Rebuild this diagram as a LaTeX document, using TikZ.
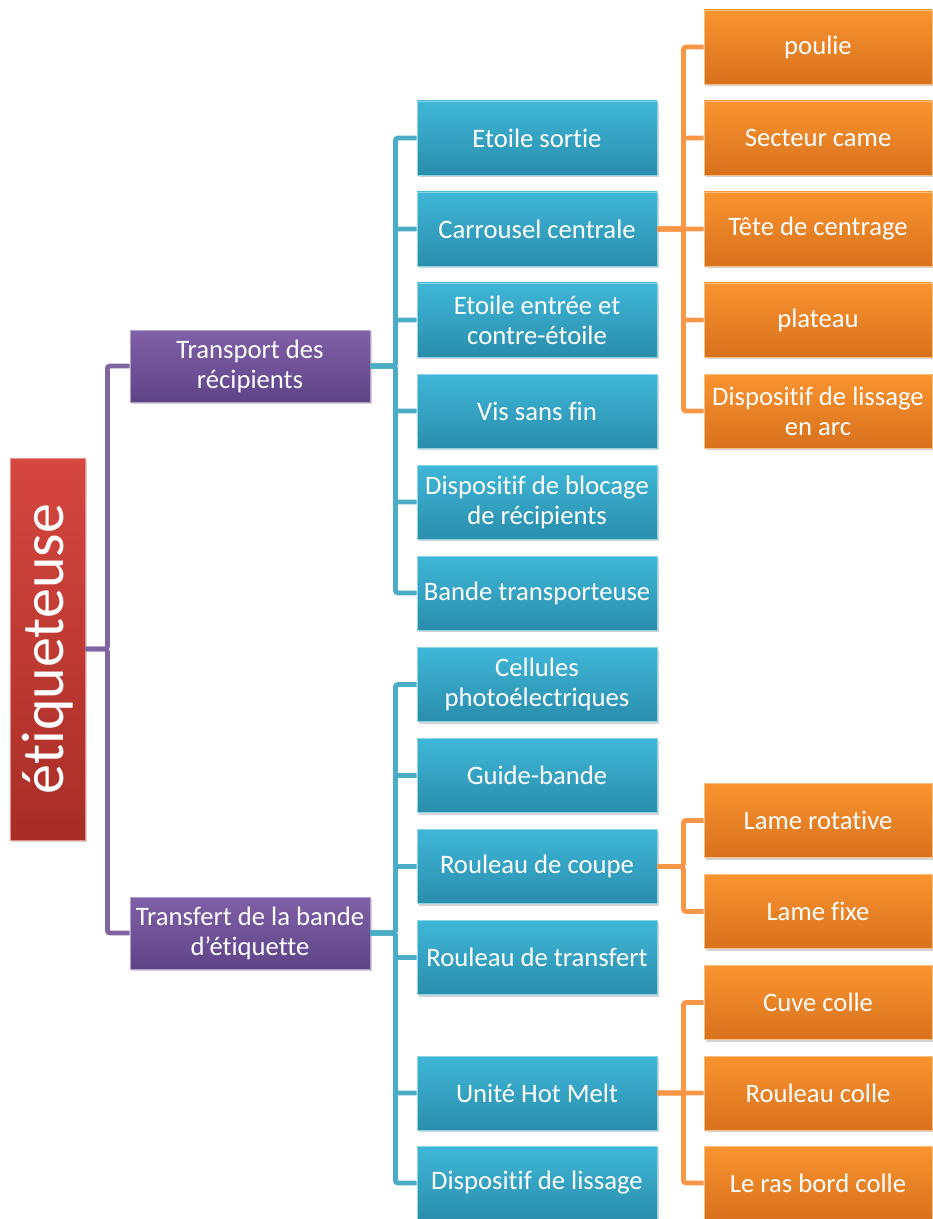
\documentclass[tikz,border=0pt]{standalone}
\usepackage{fontspec}
\setmainfont{Carlito}[Ligatures=NoCommon]
\usepackage{tikz}
\usetikzlibrary{calc,shadows}
\tikzset{>=latex}
\definecolor{redtop}{HTML}{D5473F}
\definecolor{redbot}{HTML}{A82D27}
\definecolor{purpletop}{HTML}{8060A8}
\definecolor{purplebot}{HTML}{5F4387}
\definecolor{bluetop}{HTML}{3FB7D8}
\definecolor{bluebot}{HTML}{2A8DAC}
\definecolor{orangetop}{HTML}{F9942F}
\definecolor{orangebot}{HTML}{D8711D}
\definecolor{linepurple}{HTML}{8064A2}
\definecolor{lineblue}{HTML}{4BACC6}
\definecolor{lineorange}{HTML}{F79646}
\tikzset{
  box/.style={rectangle, text=white, align=center, inner sep=1pt,
    font=\fontsize{20}{22.5}\selectfont,
    drop shadow={opacity=0.35, shadow xshift=1.2pt, shadow yshift=-1.5pt}},
  rootbox/.style={box, minimum width=56.25pt, minimum height=286.5pt,
    top color=redtop, bottom color=redbot, draw=redtop!60!white, line width=0.6pt,
    font=\fontsize{45}{48}\selectfont},
  purplebox/.style={box, minimum width=180pt, minimum height=54pt,
    top color=purpletop, bottom color=purplebot, draw=purpletop!60!white, line width=0.6pt},
  bluebox/.style={box, minimum width=180pt, minimum height=55.5pt,
    top color=bluetop, bottom color=bluebot, draw=bluetop!60!white, line width=0.6pt},
  orangebox/.style={box, minimum width=171pt, minimum height=55.5pt,
    top color=orangetop, bottom color=orangebot, draw=orangetop!60!white, line width=0.6pt},
  purpleline/.style={draw=linepurple, line width=3.6pt, rounded corners=2pt},
  blueline/.style={draw=lineblue, line width=3.6pt, rounded corners=2pt},
  orangeline/.style={draw=lineorange, line width=3.6pt, rounded corners=2pt}
}

\begin{document}
\begin{tikzpicture}[x=0.75pt, y=-0.75pt]
\useasboundingbox (0,0) rectangle (932,1219);

% root and first level
\node[rootbox] (root) at (47.5, 649) {\rotatebox{90}{étiqueteuse}};
\node[purplebox] (transport) at (250, 366) {Transport des\\récipients};
\node[purplebox] (transfert) at (250, 933) {Transfert de la bande\\d’étiquette};

% second level
\node[bluebox] (etoilesortie) at (537, 138) {Etoile sortie};
\node[bluebox] (carrousel) at (537, 229) {Carrousel centrale};
\node[bluebox] (etoileentree) at (537, 320) {Etoile entrée et\\contre-étoile};
\node[bluebox] (vis) at (537, 411) {Vis sans fin};
\node[bluebox] (blocage) at (537, 502) {Dispositif de blocage\\de récipients};
\node[bluebox] (bande) at (537, 593) {Bande transporteuse};
\node[bluebox] (cellules) at (537, 684.5) {Cellules\\photoélectriques};
\node[bluebox] (guide) at (537, 775.5) {Guide-bande};
\node[bluebox] (coupe) at (537, 866.5) {Rouleau de coupe};
\node[bluebox] (rtransfert) at (537, 957.5) {Rouleau de transfert};
\node[bluebox] (hotmelt) at (537, 1093) {Unité Hot Melt};
\node[bluebox] (lissage) at (537, 1183) {Dispositif de lissage};

% third level
\node[orangebox] (poulie) at (818, 47) {poulie};
\node[orangebox] (came) at (818, 138) {Secteur came};
\node[orangebox] (tete) at (818, 229) {Tête de centrage};
\node[orangebox] (plateau) at (818, 320) {plateau};
\node[orangebox] (arc) at (818, 411) {Dispositif de lissage\\en arc};
\node[orangebox] (rotative) at (818, 820.5) {Lame rotative};
\node[orangebox] (fixe) at (818, 911.5) {Lame fixe};
\node[orangebox] (cuve) at (818, 1002.5) {Cuve colle};
\node[orangebox] (rcolle) at (818, 1093) {Rouleau colle};
\node[orangebox] (rasbord) at (818, 1183) {Le ras bord colle};

% connectors
\draw[purpleline] (root.east) -- ++(22,0) |- (transport.west);
\draw[purpleline] (root.east) -- ++(22,0) |- (transfert.west);

\draw[blueline] (transport.east) -- ++(25,0) |- (etoilesortie.west);
\draw[blueline] (transport.east) -- ++(25,0) |- (carrousel.west);
\draw[blueline] (transport.east) -- ++(25,0) |- (etoileentree.west);
\draw[blueline] (transport.east) -- ++(25,0) |- (vis.west);
\draw[blueline] (transport.east) -- ++(25,0) |- (blocage.west);
\draw[blueline] (transport.east) -- ++(25,0) |- (bande.west);

\draw[blueline] (transfert.east) -- ++(25,0) |- (cellules.west);
\draw[blueline] (transfert.east) -- ++(25,0) |- (guide.west);
\draw[blueline] (transfert.east) -- ++(25,0) |- (coupe.west);
\draw[blueline] (transfert.east) -- ++(25,0) |- (rtransfert.west);
\draw[blueline] (transfert.east) -- ++(25,0) |- (hotmelt.west);
\draw[blueline] (transfert.east) -- ++(25,0) |- (lissage.west);

\draw[orangeline] (carrousel.east) -- ++(26,0) |- (poulie.west);
\draw[orangeline] (carrousel.east) -- ++(26,0) |- (came.west);
\draw[orangeline] (carrousel.east) -- ++(26,0) |- (tete.west);
\draw[orangeline] (carrousel.east) -- ++(26,0) |- (plateau.west);
\draw[orangeline] (carrousel.east) -- ++(26,0) |- (arc.west);

\draw[orangeline] (coupe.east) -- ++(26,0) |- (rotative.west);
\draw[orangeline] (coupe.east) -- ++(26,0) |- (fixe.west);

\draw[orangeline] (hotmelt.east) -- ++(26,0) |- (cuve.west);
\draw[orangeline] (hotmelt.east) -- ++(26,0) |- (rcolle.west);
\draw[orangeline] (hotmelt.east) -- ++(26,0) |- (rasbord.west);
\end{tikzpicture}
\end{document}
